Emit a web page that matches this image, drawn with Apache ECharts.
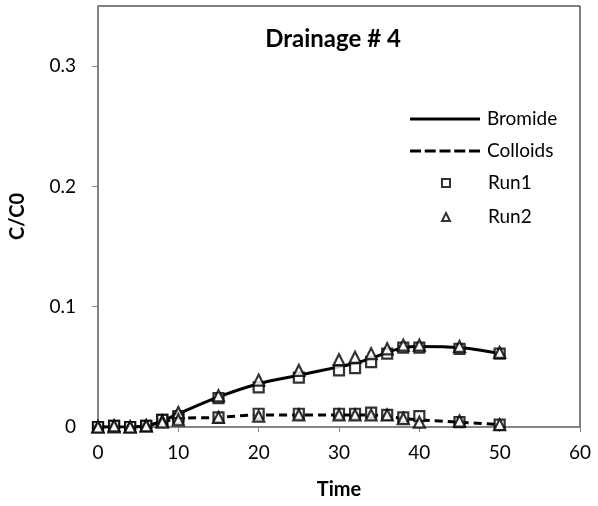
<!DOCTYPE html>
<html>
<head>
<meta charset="utf-8">
<script src="https://cdn.jsdelivr.net/npm/echarts@6/dist/echarts.min.js"></script>
<style>
  html, body { margin: 0; padding: 0; background: #fff; }
  #main { width: 598px; height: 506px; }
</style>
</head>
<body>
<div id="main"></div>
<script>
// sample times
var times = [0, 2, 4, 6, 8, 10, 15, 20, 25, 30, 32, 34, 36, 38, 40, 45, 50];

// model curves
var bromide  = [0, 0, 0, 0.001, 0.005, 0.011, 0.025, 0.036, 0.043, 0.050, 0.053, 0.057, 0.062, 0.066, 0.067, 0.066, 0.061];
var colloids = [0, 0, 0, 0.001, 0.004, 0.007, 0.008, 0.010, 0.010, 0.010, 0.010, 0.010, 0.009, 0.007, 0.006, 0.004, 0.002];

// measured points (bromide + colloids for each run)
var run1Br  = [0, 0.001, 0, 0.001, 0.006, 0.009, 0.024, 0.033, 0.041, 0.047, 0.049, 0.054, 0.061, 0.066, 0.066, 0.065, 0.061];
var run1Col = [0, 0.001, 0, 0.001, 0.006, 0.007, 0.008, 0.011, 0.011, 0.011, 0.011, 0.012, 0.010, 0.008, 0.009, 0.004, 0.002];
var run2Br  = [0, 0, 0, 0.001, 0.005, 0.012, 0.026, 0.039, 0.047, 0.056, 0.058, 0.061, 0.065, 0.068, 0.068, 0.067, 0.062];
var run2Col = [0, 0.001, 0, 0.001, 0.004, 0.006, 0.008, 0.009, 0.010, 0.010, 0.010, 0.010, 0.010, 0.007, 0.004, 0.005, 0.002];

var yTicks = [0, 0.1, 0.2, 0.3];

function pairs(xs, ys) {
  var out = [];
  for (var i = 0; i < xs.length; i++) out.push([xs[i], ys[i]]);
  return out;
}

var font = 'Lato, "Open Sans", sans-serif';
var chart = echarts.init(document.getElementById('main'), null, { renderer: 'canvas' });

var hollow = { color: '#fff', borderColor: '#000', borderWidth: 2.2 };
// legend line icons
var solidIcon = 'path://M0 0H70V3H0Z';
var dashIcon = 'path://M0 0H11V3H0Z M14.75 0H25.75V3H14.75Z M29.5 0H40.5V3H29.5Z M44.25 0H55.25V3H44.25Z M59 0H70V3H59Z';

var option = {
  animation: false,
  backgroundColor: '#fff',
  title: {
    text: 'Drainage # 4',
    left: 328, top: 22, textAlign: 'center',
    textStyle: { fontFamily: font, fontWeight: 'bold', fontSize: 24, color: '#000' }
  },
  grid: {
    left: 97, right: 18, top: 6, bottom: 79,
    show: true, borderColor: '#000', borderWidth: 1, backgroundColor: '#fff'
  },
  legend: [{
    data: [{ name: 'Bromide', icon: solidIcon }, { name: 'Colloids', icon: dashIcon }],
    orient: 'vertical',
    left: 410, top: 109, padding: 0,
    itemWidth: 70, itemHeight: 3, itemGap: 12,
    textStyle: { fontFamily: font, fontSize: 19, lineHeight: 20, color: '#000', padding: [0, 0, 0, 2] }
  }, {
    data: [{ name: 'Run1', icon: 'rect' }, { name: 'Run2', icon: 'triangle' }],
    orient: 'vertical',
    left: 441, top: 173, padding: 0,
    itemWidth: 8, itemHeight: 8, itemGap: 14,
    itemStyle: { color: '#fff', borderColor: '#000', borderWidth: 2 },
    textStyle: { fontFamily: font, fontSize: 19, lineHeight: 20, color: '#000', padding: [0, 0, 0, 33] }
  }],
  xAxis: {
    type: 'value', min: 0, max: 60, interval: 10,
    name: 'Time', nameLocation: 'middle', nameGap: 53,
    nameTextStyle: { fontFamily: font, fontWeight: 'bold', fontSize: 20, color: '#000' },
    axisLine: { onZero: false, lineStyle: { color: '#868686', width: 1.5 } },
    axisTick: { show: true, length: 5, lineStyle: { color: '#868686' } },
    axisLabel: { fontFamily: font, fontSize: 19, color: '#000', margin: 16 },
    splitLine: { show: false }
  },
  yAxis: {
    type: 'value', min: 0, max: 0.35, interval: 0.1,
    name: 'C/C0', nameLocation: 'middle', nameGap: 70,
    nameTextStyle: { fontFamily: font, fontWeight: 'bold', fontSize: 20, color: '#000' },
    axisLine: { show: true, lineStyle: { color: '#868686', width: 1.5 } },
    axisTick: { show: true, length: 6, lineStyle: { color: '#868686' }, customValues: yTicks },
    axisLabel: { fontFamily: font, fontSize: 19, color: '#000', margin: 22, customValues: yTicks },
    splitLine: { show: false }
  },
  series: [
    {
      name: 'Bromide', type: 'line', smooth: 0.3, symbol: 'none', z: 3,
      data: pairs(times, bromide),
      lineStyle: { color: '#000', width: 3 }, itemStyle: { color: '#000' }
    },
    {
      name: 'Colloids', type: 'line', smooth: 0.3, symbol: 'none', z: 3,
      data: pairs(times, colloids),
      lineStyle: { color: '#000', width: 3, type: [8, 5] }, itemStyle: { color: '#000' }
    },
    {
      name: 'Run1', type: 'scatter', symbol: 'rect', symbolSize: 10, z: 4,
      data: pairs(times, run1Br).concat(pairs(times, run1Col)),
      itemStyle: hollow
    },
    {
      name: 'Run2', type: 'scatter', symbol: 'triangle', symbolSize: 11, z: 4,
      data: pairs(times, run2Br).concat(pairs(times, run2Col)),
      itemStyle: hollow
    }
  ]
};

chart.setOption(option);
</script>
</body>
</html>
